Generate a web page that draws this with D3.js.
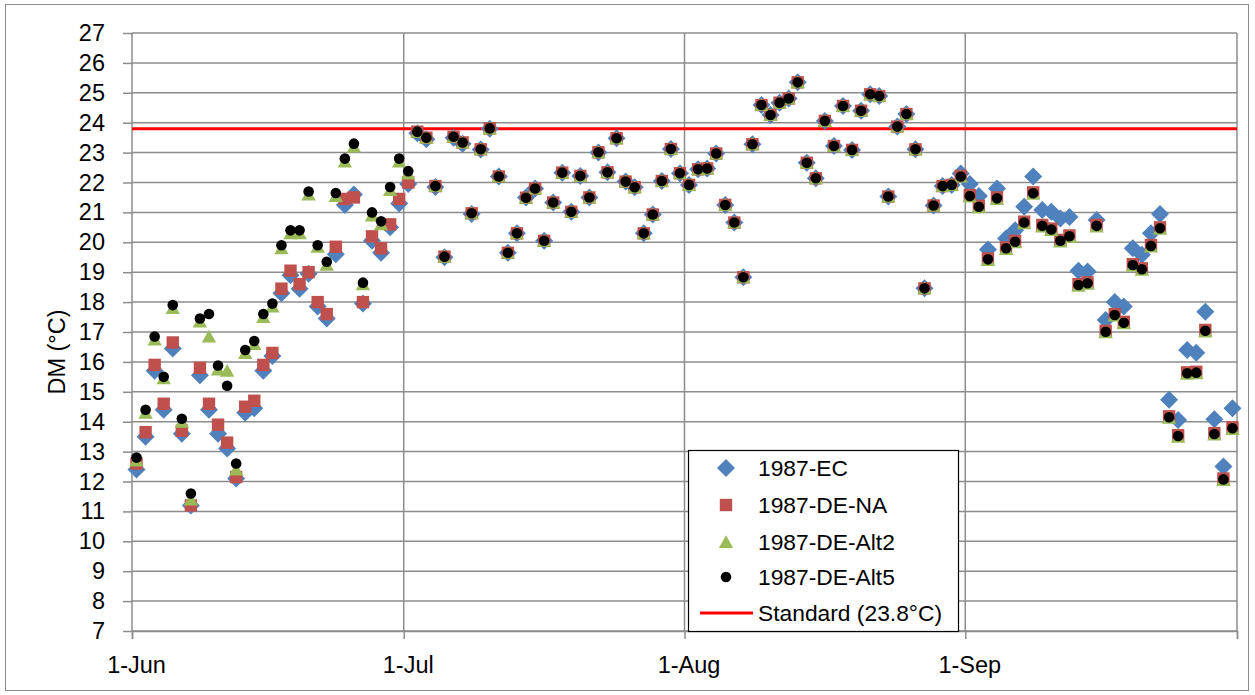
<!DOCTYPE html>
<html><head><meta charset="utf-8">
<script src="https://cdn.jsdelivr.net/npm/d3@7"></script>
<style>html,body{margin:0;padding:0;background:#fff;}svg{display:block;}</style>
</head><body>
<svg id="chart" width="1255" height="695"></svg>
<script>
// ---------- data ----------
const startDate = new Date(1987, 5, 1);
const endDate = new Date(1987, 9, 1);
const days = d3.timeDay.range(startDate, endDate); // 1-Jun .. 30-Sep
const monthTicks = [new Date(1987,5,1), new Date(1987,6,1), new Date(1987,7,1), new Date(1987,8,1)];
const monthLabels = ["1-Jun", "1-Jul", "1-Aug", "1-Sep"];
const yTicks = [7,8,9,10,11,12,13,14,15,16,17,18,19,20,21,22,23,24,25,26,27];
const standard = 23.8;

const ec = [
 12.4,13.5,15.7,14.4,16.45,13.6,11.2,15.55,14.4,13.6,13.1,12.1,14.3,14.45,15.7,16.2,18.3,18.9,18.45,18.95,17.85,17.45,19.6,21.25,21.6,17.95,20.05,19.65,20.5,21.3,
 21.95,23.65,23.45,21.85,19.5,23.5,23.3,20.95,23.1,23.8,22.2,19.65,20.3,21.5,21.8,20.05,21.33,22.33,21.02,22.22,21.5,23.0,22.34,23.48,22.03,21.84,20.3,20.93,22.05,23.12,22.31,
 21.92,22.44,22.47,22.97,21.25,20.66,18.83,23.28,24.59,24.26,24.67,24.81,25.35,22.66,22.14,24.06,23.22,24.56,23.09,24.4,24.95,24.89,21.53,23.87,24.29,23.11,18.46,21.23,21.88,21.92,22.3,
 21.95,21.55,19.76,21.8,20.13,20.4,21.19,22.2,21.08,21.02,20.8,20.85,19.05,19.02,20.75,17.4,18.0,17.85,19.8,19.58,20.3,20.95,14.73,14.06,16.4,16.31,17.68,14.08,12.5,14.45
];
const deNA = [
 12.6,13.65,15.9,14.6,16.65,13.7,11.2,15.8,14.6,13.9,13.3,12.15,14.5,14.7,15.9,16.3,18.45,19.05,18.6,19.0,18.0,17.6,19.85,21.45,21.5,18.0,20.2,19.8,20.6,21.45,
 22.0,23.7,23.5,21.88,19.52,23.53,23.34,20.97,23.11,23.81,22.2,19.65,20.3,21.49,21.8,20.05,21.33,22.33,21.02,22.22,21.5,23.01,22.34,23.48,22.03,21.84,20.3,20.93,22.05,23.12,22.31,
 21.92,22.44,22.47,22.97,21.25,20.66,18.83,23.28,24.59,24.26,24.67,24.81,25.35,22.66,22.14,24.06,23.22,24.56,23.09,24.4,24.95,24.89,21.53,23.87,24.29,23.11,18.46,21.23,21.88,21.92,22.22,
 21.58,21.22,19.46,21.5,19.83,20.05,20.69,21.67,20.58,20.46,20.08,20.23,18.6,18.66,20.58,17.04,17.6,17.34,19.27,19.13,19.91,20.5,14.18,13.55,15.65,15.67,17.07,13.62,12.1,13.81
];
const deAlt2 = [
 12.7,14.3,16.75,15.45,17.8,14.0,11.4,17.35,16.85,15.75,15.7,12.4,16.3,16.6,17.5,17.85,19.8,20.3,20.3,21.6,19.85,19.25,21.55,22.7,23.2,18.6,20.9,20.6,21.75,22.7,
 22.3,23.7,23.5,21.88,19.52,23.53,23.34,20.97,23.11,23.81,22.2,19.65,20.3,21.49,21.8,20.05,21.33,22.33,21.02,22.22,21.5,23.01,22.34,23.48,22.03,21.84,20.3,20.93,22.05,23.12,22.31,
 21.92,22.44,22.47,22.97,21.25,20.66,18.83,23.28,24.59,24.26,24.67,24.81,25.35,22.66,22.14,24.06,23.22,24.56,23.09,24.4,24.95,24.89,21.53,23.87,24.29,23.11,18.46,21.23,21.88,21.92,22.2,
 21.53,21.17,19.41,21.45,19.78,20.0,20.64,21.62,20.53,20.41,20.03,20.18,18.55,18.61,20.53,16.99,17.55,17.29,19.22,19.08,19.86,20.45,14.13,13.5,15.6,15.62,17.02,13.57,12.05,13.76
];
const deAlt5 = [
 12.8,14.4,16.85,15.5,17.9,14.1,11.6,17.45,17.6,15.88,15.2,12.6,16.4,16.7,17.6,17.95,19.9,20.4,20.4,21.7,19.9,19.35,21.65,22.8,23.3,18.65,21.0,20.7,21.85,22.8,
 22.38,23.7,23.5,21.88,19.52,23.53,23.34,20.97,23.11,23.81,22.2,19.65,20.3,21.49,21.8,20.05,21.33,22.33,21.02,22.22,21.5,23.01,22.34,23.48,22.03,21.84,20.3,20.93,22.05,23.12,22.31,
 21.92,22.44,22.47,22.97,21.25,20.66,18.83,23.28,24.59,24.26,24.67,24.81,25.35,22.66,22.14,24.06,23.22,24.56,23.09,24.4,24.95,24.89,21.53,23.87,24.29,23.11,18.46,21.23,21.88,21.92,22.2,
 21.55,21.19,19.43,21.47,19.8,20.02,20.66,21.64,20.55,20.43,20.05,20.2,18.57,18.63,20.55,17.01,17.57,17.31,19.24,19.1,19.88,20.47,14.15,13.52,15.62,15.64,17.04,13.59,12.07,13.78
];

const seriesNames = ["1987-EC", "1987-DE-NA", "1987-DE-Alt2", "1987-DE-Alt5"];
const seriesColors = ["#4f81bd", "#c0504d", "#9bbb59", "#000000"];
const standardLabel = "Standard (23.8°C)";
const yTitle = "DM (°C)";

// ---------- layout ----------
const svg = d3.select("#chart");
const L = 132, R = 1237, T = 33, B = 631;
const FONT = "'Liberation Sans', Arial, sans-serif";
const FS = 23.5;
const LFS = 22.8;
const gridColor = "#8c8c8c";

const x = d3.scaleTime().domain([startDate, endDate]).range([L, R]);
const y = d3.scaleLinear().domain([7, 27]).range([B, T]);

// outer frame
svg.append("rect").attr("x", 5.5).attr("y", 4.5).attr("width", 1243).attr("height", 686)
  .attr("fill", "#fff").attr("stroke", "#8c8c8c").attr("stroke-width", 1);

// y axis ticks + labels
const yAxis = d3.axisLeft(y).tickValues(yTicks).tickSize(9).tickPadding(18).tickFormat(d3.format("d"));
const gy = svg.append("g").attr("transform", `translate(${L},0)`).call(yAxis);
gy.select(".domain").remove();
gy.selectAll(".tick line").attr("stroke", gridColor).attr("stroke-width", 1.5);
gy.selectAll(".tick text").attr("font-family", FONT).attr("font-size", FS).attr("fill", "#000");

// horizontal gridlines
svg.append("g").selectAll("line").data(yTicks).join("line")
  .attr("x1", L).attr("x2", R).attr("y1", d => y(d)).attr("y2", d => y(d))
  .attr("stroke", gridColor).attr("stroke-width", 1.5);

// vertical gridlines at month starts (and right edge)
const vLines = monthTicks.concat([endDate]);
svg.append("g").selectAll("line").data(vLines).join("line")
  .attr("x1", d => x(d)).attr("x2", d => x(d)).attr("y1", T).attr("y2", B)
  .attr("stroke", gridColor).attr("stroke-width", 1.5);

// x axis
const xAxis = d3.axisBottom(x).tickValues(vLines).tickSize(8).tickFormat("");
const gx = svg.append("g").attr("transform", `translate(0,${B})`).call(xAxis);
gx.select(".domain").attr("stroke", gridColor).attr("stroke-width", 1.5);
gx.selectAll(".tick line").attr("stroke", gridColor).attr("stroke-width", 1.5);

// x labels centred at the middle of the day
svg.append("g").selectAll("text").data(monthTicks).join("text")
  .attr("x", d => x(d3.timeHour.offset(d, 12)))
  .attr("y", 673)
  .attr("text-anchor", "middle")
  .attr("font-family", FONT).attr("font-size", FS).attr("fill", "#000")
  .text((d, i) => monthLabels[i]);

// y title
svg.append("text")
  .attr("transform", `translate(65,${(T + B) / 2 + 20}) rotate(-90)`)
  .attr("text-anchor", "middle")
  .attr("font-family", FONT).attr("font-size", FS).attr("fill", "#000")
  .text(yTitle);

// standard line
svg.append("line")
  .attr("x1", L).attr("x2", R).attr("y1", y(standard)).attr("y2", y(standard))
  .attr("stroke", "#ff0000").attr("stroke-width", 3);

// marker shapes
const shapes = [
  "M0,-9L9,0L0,9L-9,0Z",
  "M-6.2,-6.2L6.2,-6.2L6.2,6.2L-6.2,6.2Z",
  "M0,-6.8L7.2,6L-7.2,6Z",
  d3.symbol(d3.symbolCircle, Math.PI * 5.3 * 5.3)()
];
const seriesData = [ec, deNA, deAlt2, deAlt5];

seriesData.forEach((vals, si) => {
  svg.append("g").selectAll("path").data(vals).join("path")
    .attr("d", shapes[si])
    .attr("fill", seriesColors[si])
    .attr("transform", (v, i) => `translate(${x(d3.timeHour.offset(days[i], 12))},${y(v)})`);
});

// legend
const lg = svg.append("g");
lg.append("rect").attr("x", 688.5).attr("y", 450.5).attr("width", 270).attr("height", 181)
  .attr("fill", "#fff").attr("stroke", "#000").attr("stroke-width", 1.2);
const rowY = [468, 505, 542, 577, 613];
seriesNames.forEach((name, i) => {
  lg.append("path").attr("d", shapes[i]).attr("fill", seriesColors[i])
    .attr("transform", `translate(726,${rowY[i]})`);
  lg.append("text").attr("x", 758).attr("y", rowY[i]).attr("dy", "0.36em")
    .attr("font-family", FONT).attr("font-size", LFS).attr("fill", "#000").text(name);
});
lg.append("line").attr("x1", 700).attr("x2", 753).attr("y1", rowY[4]).attr("y2", rowY[4])
  .attr("stroke", "#ff0000").attr("stroke-width", 3);
lg.append("text").attr("x", 758).attr("y", rowY[4]).attr("dy", "0.36em")
  .attr("font-family", FONT).attr("font-size", LFS).attr("fill", "#000").text(standardLabel);
</script>
</body></html>
